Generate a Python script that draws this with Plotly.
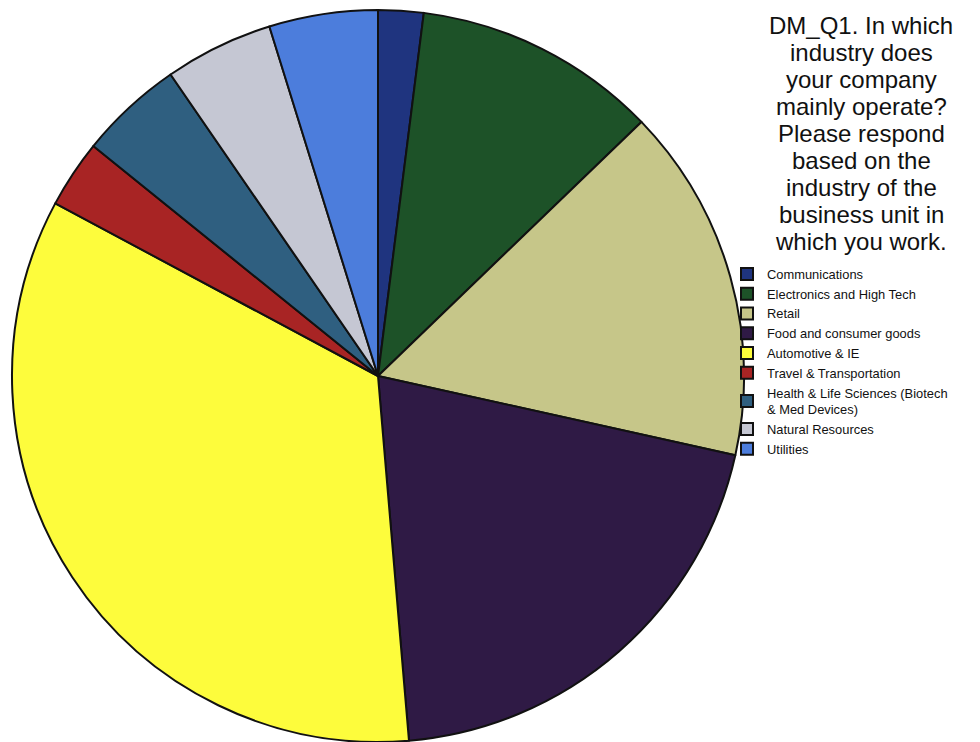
import plotly.graph_objects as go

# Share of respondents by industry (percent), in drawing order clockwise from 12 o'clock
industries = [
    "Communications",
    "Electronics and High Tech",
    "Retail",
    "Food and consumer goods",
    "Automotive & IE",
    "Travel & Transportation",
    "Health & Life Sciences (Biotech<br>& Med Devices)",
    "Natural Resources",
    "Utilities",
]
shares = [2.0, 10.8, 15.7, 20.2, 34.2, 3.0, 4.6, 4.8, 4.8]
colors = [
    "#1f347f", "#1d5228", "#c6c689", "#2f1a45", "#fdfc3c",
    "#a82424", "#2f5f80", "#c5c7d3", "#4c7ddc",
]

title_lines = [
    "DM_Q1. In which",
    "industry does",
    "your company",
    "mainly operate?",
    "Please respond",
    "based on the",
    "industry of the",
    "business unit in",
    "which you work.",
]

W, H = 980, 742
cx, cy, r = 378, 376, 366
FONT = "Liberation Sans, Arial, sans-serif"

fig = go.Figure(go.Pie(
    labels=industries,
    values=shares,
    sort=False,
    direction="clockwise",
    rotation=0,
    marker=dict(colors=colors, line=dict(color="#111111", width=2)),
    textinfo="none",
    hoverinfo="label+percent",
    domain=dict(x=[(cx - r) / W, (cx + r) / W],
                y=[(H - cy - r) / H, (H - cy + r) / H]),
))

# Title block: one annotation per line so the line spacing stays tight
title_x, first_line_y, line_step = 861, 25.5, 27.0
annotations = [
    dict(text=line, x=title_x / W, y=(H - (first_line_y + i * line_step)) / H,
         xref="paper", yref="paper", xanchor="center", yanchor="middle",
         showarrow=False, font=dict(size=24.0, color="#111111", family=FONT))
    for i, line in enumerate(title_lines)
]

fig.update_layout(
    width=W, height=H,
    margin=dict(l=0, r=0, t=0, b=0),
    paper_bgcolor="white",
    plot_bgcolor="white",
    font=dict(family=FONT, color="#111111"),
    showlegend=True,
    legend=dict(
        x=727 / W, y=(H - 259) / H, xanchor="left", yanchor="top",
        font=dict(size=12.9, color="#111111"),
        tracegroupgap=0, itemwidth=30,
        bgcolor="rgba(0,0,0,0)",
    ),
    annotations=annotations,
)

fig.write_html("out.html")
